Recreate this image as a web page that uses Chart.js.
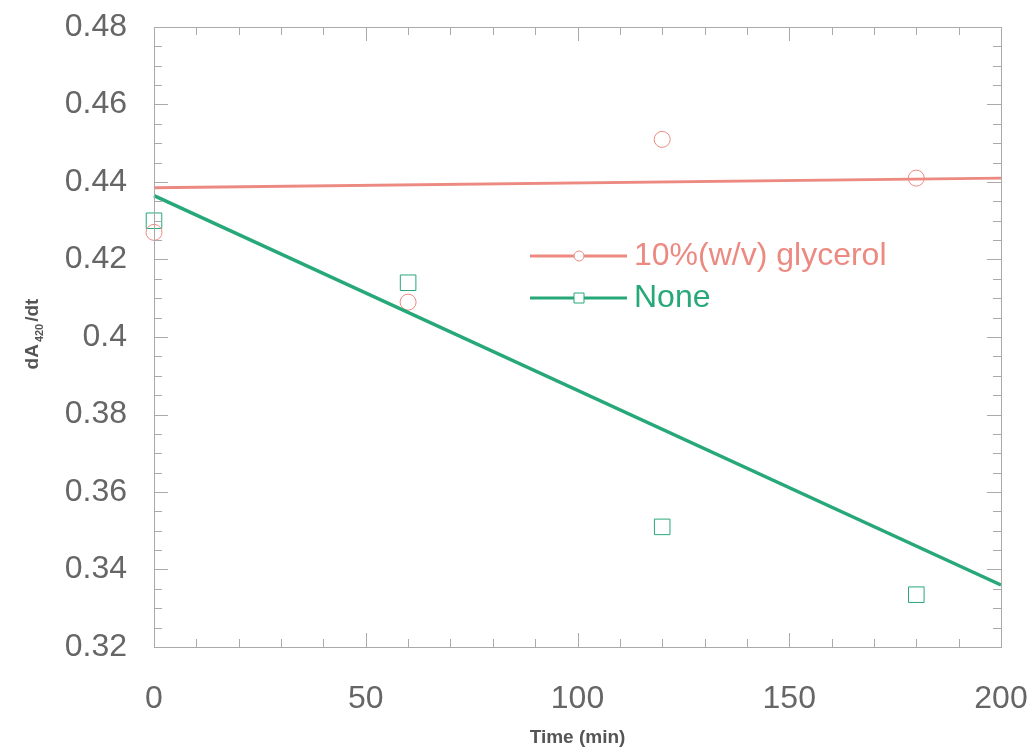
<!DOCTYPE html>
<html>
<head>
<meta charset="utf-8">
<script src="https://cdn.jsdelivr.net/npm/chart.js@4"></script>
<style>
  html, body { margin: 0; padding: 0; background: #fff; }
  #wrap { width: 1036px; height: 747px; }
</style>
</head>
<body>
<div id="wrap"><canvas id="myChart" width="1036" height="747"></canvas></div>
<script>
// data
const times = [0, 60, 120, 180];
const glycerol = [0.427, 0.409, 0.451, 0.441];
const none = [0.430, 0.414, 0.351, 0.3335];
const fitX = [0, 200];
const glycerolFit = [0.4385, 0.441];
const noneFit = [0.4365, 0.336];
const xTicks = [0, 50, 100, 150, 200];
const yTicks = [0.32, 0.34, 0.36, 0.38, 0.4, 0.42, 0.44, 0.46, 0.48];
const labels = ['10%(w/v) glycerol', 'None'];

const red = '#ec8a82';
const green = '#27a878';
const gray = '#666';
const FONT = '"Liberation Sans", Arial, sans-serif';

const pts = (xs, ys) => xs.map((x, i) => ({ x: x, y: ys[i] }));

// frame + inward ticks, titles and legend
const decor = {
    id: 'decor',
    afterDraw(chart) {
        const c = chart.ctx;
        const a = chart.chartArea;
        const sx = chart.scales.x, sy = chart.scales.y;
        c.save();
        c.strokeStyle = '#aaa';
        c.lineWidth = 1;
        c.strokeRect(a.left + 0.5, a.top + 0.5, a.right - a.left, a.bottom - a.top);
        c.beginPath();
        for (let v = 0; v <= 200; v += 10) {
            const px = Math.round(sx.getPixelForValue(v)) + 0.5;
            const len = v % 50 === 0 ? 14 : 8;
            c.moveTo(px, a.bottom); c.lineTo(px, a.bottom - len);
            c.moveTo(px, a.top); c.lineTo(px, a.top + len);
        }
        for (let i = 0; i <= 32; i++) {
            const v = 0.32 + i * 0.005;
            const py = Math.round(sy.getPixelForValue(v)) + 0.5;
            const len = i % 4 === 0 ? 14 : 8;
            c.moveTo(a.left, py); c.lineTo(a.left + len, py);
            c.moveTo(a.right, py); c.lineTo(a.right - len, py);
        }
        c.stroke();

        // axis titles
        c.fillStyle = '#555';
        c.font = 'bold 19px ' + FONT;
        c.textAlign = 'center';
        c.textBaseline = 'middle';
        c.fillText('Time (min)', (a.left + a.right) / 2, 738);

        c.translate(31, 334);
        c.rotate(-Math.PI / 2);
        c.textAlign = 'left';
        c.textBaseline = 'alphabetic';
        const big = 'bold 19px ' + FONT, small = 'bold 11px ' + FONT;
        c.font = big;
        const w1 = c.measureText('dA').width;
        const w3 = c.measureText('/dt').width;
        c.font = small;
        const w2 = c.measureText('420').width + 4;
        const x0 = -(w1 + w2 + w3) / 2;
        c.font = big;
        c.fillText('dA', x0, 7);
        c.fillText('/dt', x0 + w1 + w2, 7);
        c.font = small;
        c.fillText('420', x0 + w1 + 2, 12);
        c.restore();

        // legend
        c.save();
        const rows = [{ col: red, shape: 'circle', y: 256 }, { col: green, shape: 'rect', y: 298 }];
        rows.forEach((r, i) => {
            c.strokeStyle = r.col;
            c.lineWidth = 3;
            c.beginPath();
            c.moveTo(530, r.y); c.lineTo(627, r.y);
            c.stroke();
            c.lineWidth = 1;
            c.fillStyle = '#fff';
            c.beginPath();
            if (r.shape === 'circle') c.arc(579, r.y, 5, 0, Math.PI * 2);
            else c.rect(574, r.y - 5, 10, 10);
            c.fill();
            c.stroke();
            c.fillStyle = r.col;
            c.font = '32px ' + FONT;
            c.textAlign = 'left';
            c.textBaseline = 'middle';
            c.fillText(labels[i], 634, r.y);
        });
        c.restore();
    }
};

new Chart(document.getElementById('myChart'), {
    type: 'scatter',
    data: {
        datasets: [
            {
                label: labels[0] + ' fit', data: pts(fitX, glycerolFit), showLine: true,
                borderColor: red, borderWidth: 3, pointRadius: 0
            },
            {
                label: labels[1] + ' fit', data: pts(fitX, noneFit), showLine: true,
                borderColor: green, borderWidth: 3.5, pointRadius: 0
            },
            {
                label: labels[0], data: pts(times, glycerol), pointStyle: 'circle',
                pointRadius: 8, borderColor: red, borderWidth: 1, backgroundColor: 'rgba(0,0,0,0)'
            },
            {
                label: labels[1], data: pts(times, none), pointStyle: 'rect',
                pointRadius: 11, borderColor: green, borderWidth: 1, backgroundColor: 'rgba(0,0,0,0)'
            }
        ]
    },
    options: {
        responsive: false,
        animation: false,
        clip: false,
        layout: { padding: { top: 27, right: 35, left: 0, bottom: 0 } },
        plugins: { legend: { display: false }, tooltip: { enabled: false } },
        scales: {
            x: {
                type: 'linear', min: 0, max: 200,
                afterBuildTicks: s => { s.ticks = xTicks.map(v => ({ value: v })); },
                afterFit: s => { s.height = 100; s.paddingLeft = 0; s.paddingRight = 0; },
                grid: { display: false },
                border: { display: false },
                ticks: {
                    color: gray, padding: 25,
                    font: { size: 32, family: FONT },
                    maxRotation: 0,
                    callback: v => String(v)
                }
            },
            y: {
                type: 'linear', min: 0.32, max: 0.48,
                afterBuildTicks: s => { s.ticks = yTicks.map(v => ({ value: v })); },
                afterFit: s => { s.width = 154; s.paddingTop = 0; s.paddingBottom = 0; },
                grid: { display: false },
                border: { display: false },
                ticks: {
                    color: gray, padding: 19,
                    font: { size: 32, family: FONT },
                    callback: v => String(v)
                }
            }
        }
    },
    plugins: [decor]
});
</script>
</body>
</html>
